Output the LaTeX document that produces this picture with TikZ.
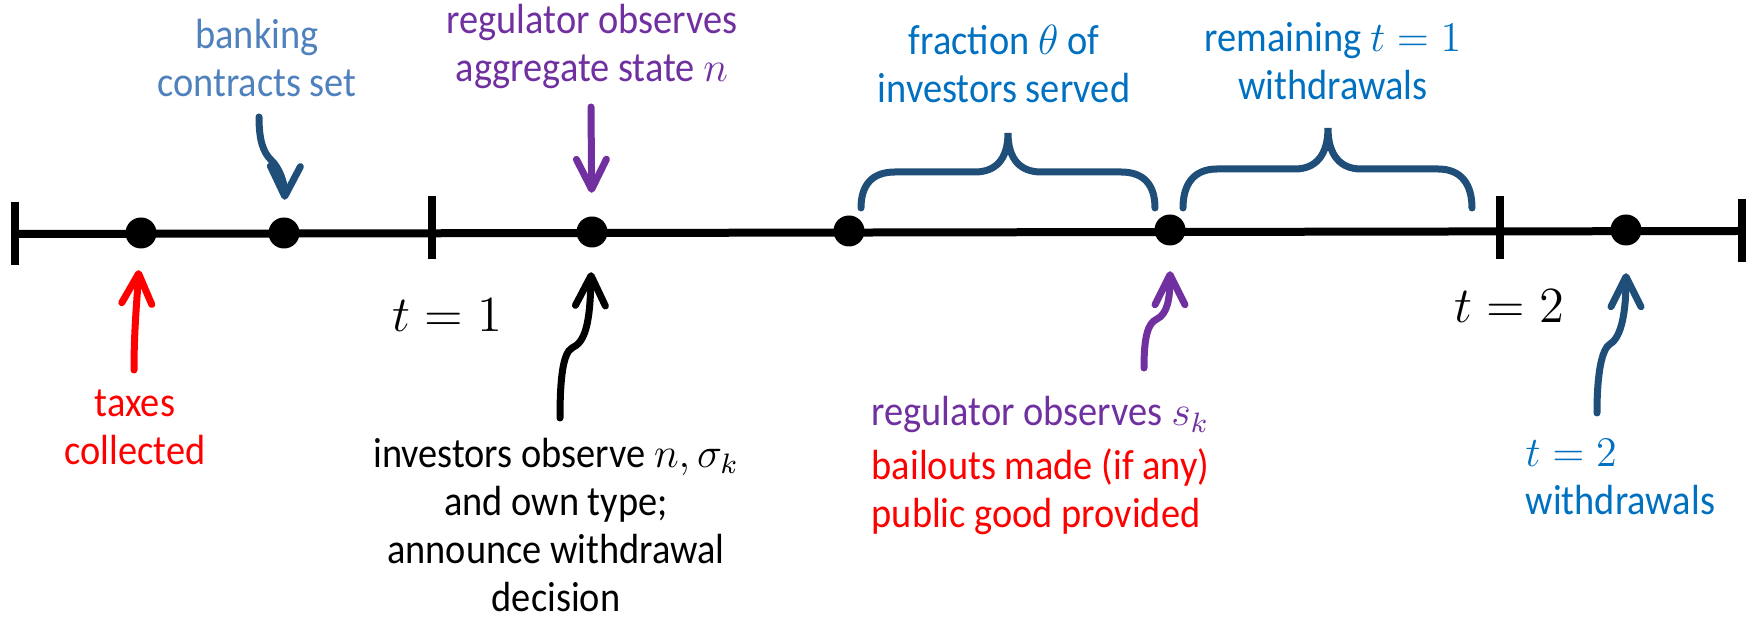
\documentclass[tikz,border=0pt]{standalone}
\usepackage{fontspec}
\setmainfont{Carlito}[FakeStretch=0.91]
\usepackage{xcolor}
\definecolor{regPurple}{HTML}{7030A0}
\definecolor{taxRed}{HTML}{FF0000}
\definecolor{bankBlue}{HTML}{4F81BD}
\definecolor{navyBlue}{HTML}{1F4E79}
\definecolor{labelBlue}{HTML}{0070C0}
\usepackage{tikz}
\usetikzlibrary{
    arrows.meta,
    positioning
}
\tikzset{
    % Black dots marking the events
    event/.style={
        circle,
        fill=black,
        minimum size=3.1mm,
        inner sep=0pt,
    },
    % Vertical bars at the period boundaries
    tickmark/.style={
        rectangle,
        fill=black,
        minimum width=0.75mm,
        minimum height=6.3mm,
        inner sep=0pt,
    },
    % The time axis itself
    timeline/.style={
        line width=0.8mm,
        draw=black,
    },
    % Text around the axis (placed by the baseline of its last line)
    label text/.style={
        font=\fontsize{12}{13.7}\selectfont,
        inner sep=0pt,
        align=center,
    },
    % Period names under the bars
    period label/.style={
        font=\fontsize{13.4}{16}\selectfont,
        inner sep=0pt,
        anchor=base west,
    },
    % Hand drawn pointer arrows
    pointer/.style={
        -{Straight Barb[length=3mm, width=3mm, round]},
        line width=0.7mm,
        line cap=round,
    },
    % Curly brackets above the axis
    bracket/.style={
        line width=0.7mm,
        draw=navyBlue,
        line cap=round,
    },
}

\begin{document}
\begin{tikzpicture}[x=0.1mm, y=-0.1mm]
    \useasboundingbox (0,0) rectangle (1752,618);

    % axis and period bars
    \node (start) [tickmark] at (15,234) {};
    \node (t1) [tickmark] at (432,228) {};
    \node (t2) [tickmark] at (1500,228) {};
    \node (finish) [tickmark] at (1742,231) {};
    \draw [timeline] (start.center) -- (finish.center);

    % events
    \node (taxdot) [event] at (141,233) {};
    \node (bankdot) [event] at (284,233) {};
    \node (statedot) [event] at (592,232) {};
    \node (servedot) [event] at (849,231) {};
    \node (signaldot) [event] at (1170,230) {};
    \node (latedot) [event] at (1626,230) {};

    % labels above
    \node (banking) [label text, text=bankBlue, anchor=base] at (257,97) {banking\\contracts set};
    \node (aggregate) [label text, text=regPurple, anchor=base] at (592,82) {regulator observes\\aggregate state $n$};
    \node (fraction) [label text, text=labelBlue, anchor=base] at (1004,103) {fraction $\theta$ of\\investors served};
    \node (remaining) [label text, text=labelBlue, anchor=base] at (1333,100) {remaining $t=1$\\withdrawals};

    % labels below
    \node (one) [period label] at (392,332) {$t=1$};
    \node (two) [period label] at (1454,323) {$t=2$};
    \node (taxes) [label text, text=taxRed, anchor=base] at (135,465) {taxes\\collected};
    \node (investors) [label text, anchor=base] at (556,612) {investors observe $n,\sigma_k$\\and own type;\\announce withdrawal\\decision};
    \node (signal) [label text, align=left, anchor=base west] at (871,528) {\textcolor{regPurple}{regulator observes $s_k$}\\[0.6mm]\textcolor{taxRed}{bailouts made (if any)}\\\textcolor{taxRed}{public good provided}};
    \node (late) [label text, text=labelBlue, align=left, anchor=base west] at (1525,515) {$t=2$\\withdrawals};

    % pointers
    \coordinate (taxtail) at (134,370);
    \coordinate (banktail) at (259,117);
    \coordinate (statetail) at (591,107);
    \coordinate (invtail) at (560,418);
    \coordinate (signaltail) at (1144,368);
    \coordinate (latetail) at (1597,413);

    \draw [pointer, taxRed, shorten >=2.1mm] (taxtail) .. controls (134,330) and (137,300) .. (taxdot);
    \draw [pointer, navyBlue, shorten >=1.7mm] (banktail) .. controls (259,140) and (263,152) .. (271,160) .. controls (280,168) and (285,185) .. (bankdot);
    \draw [pointer, regPurple, shorten >=2.3mm] (statetail) -- (statedot);
    \draw [pointer, shorten >=2.4mm] (invtail) .. controls (560,378) and (563,353) .. (572,348) .. controls (585,342) and (590,325) .. (statedot);
    \draw [pointer, regPurple, shorten >=2.5mm] (signaltail) .. controls (1144,336) and (1148,323) .. (1157,319) .. controls (1167,314) and (1170,300) .. (signaldot);
    \draw [pointer, navyBlue, shorten >=2.7mm] (latetail) .. controls (1597,372) and (1602,349) .. (1610,344) .. controls (1622,337) and (1626,310) .. (latedot);

    % brackets
    \draw [bracket] (861,208) .. controls (861,185) and (872,172) .. (895,172) -- (975,172)
        .. controls (995,172) and (1008,160) .. (1008,133)
        .. controls (1008,160) and (1021,172) .. (1041,172) -- (1121,172)
        .. controls (1144,172) and (1155,185) .. (1155,208);
    \draw [bracket] (1183,208) .. controls (1183,184) and (1194,169) .. (1217,169) -- (1295,169)
        .. controls (1315,169) and (1328,156) .. (1328,128)
        .. controls (1328,156) and (1341,169) .. (1361,169) -- (1438,169)
        .. controls (1461,169) and (1472,184) .. (1472,208);
\end{tikzpicture}
\end{document}
